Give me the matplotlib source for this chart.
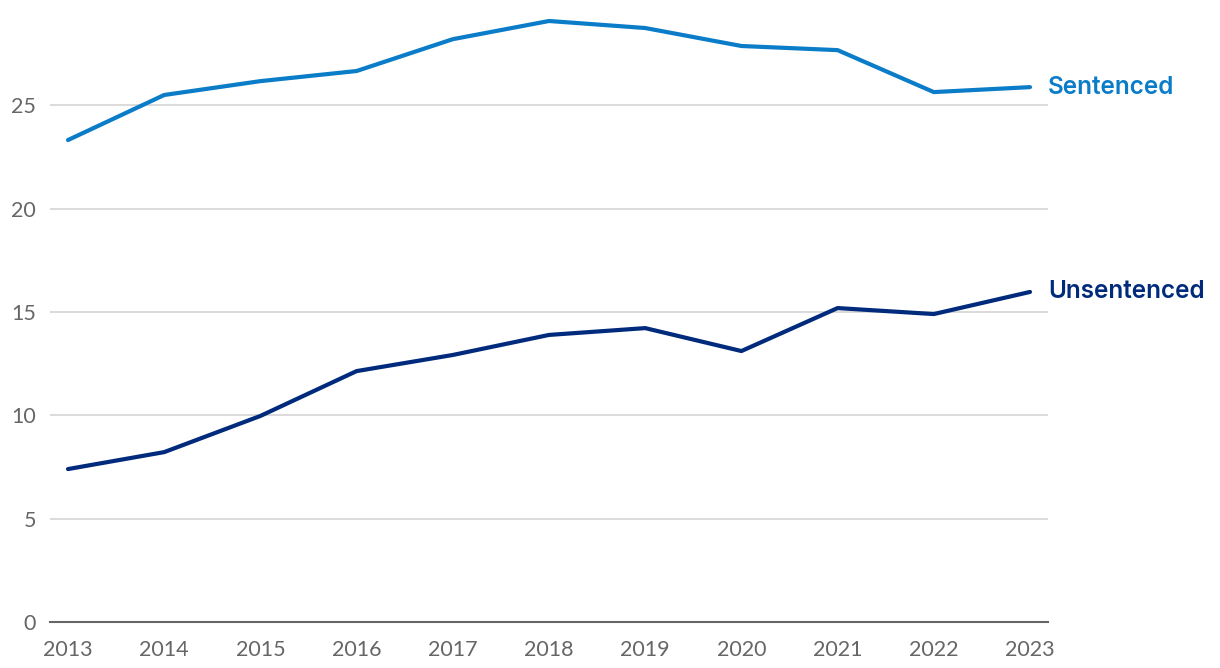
import matplotlib
matplotlib.use("Agg")
import matplotlib.pyplot as plt

years = [2013, 2014, 2015, 2016, 2017, 2018, 2019, 2020, 2021, 2022, 2023]
sentenced = [23.32, 25.5, 26.17, 26.66, 28.2, 29.08, 28.74, 27.87, 27.67, 25.64, 25.88]
unsentenced = [7.40, 8.22, 9.97, 12.14, 12.92, 13.89, 14.22, 13.11, 15.19, 14.90, 15.97]
yticks = [0, 5, 10, 15, 20, 25]

plt.rcParams['font.family'] = ['Lato', 'DejaVu Sans']

fig = plt.figure(figsize=(12.2, 6.68), dpi=100)
ax = fig.add_axes([50/1220, 1-622/668, (1048-50)/1220, (622-15)/668])

c_sent = '#0a7cc8'
c_unsent = '#002a7c'
ax.plot(years, sentenced, color=c_sent, lw=3, solid_capstyle='round', zorder=3)
ax.plot(years, unsentenced, color=c_unsent, lw=3, solid_capstyle='round', zorder=3)

ax.set_xlim(2013 - 18/96.2, 2023 + 18/96.2)
ax.set_ylim(0, 29.37)
ax.set_yticks(yticks)
ax.set_xticks(years)
ax.grid(axis='y', color='#d4d4d4', lw=1.2)
ax.set_axisbelow(True)
for s in ['top', 'right', 'left']:
    ax.spines[s].set_visible(False)
ax.spines['bottom'].set_color('#666666')
ax.spines['bottom'].set_linewidth(1.5)
ax.tick_params(axis='both', length=0, labelsize=15.5, labelcolor='#666666')
ax.tick_params(axis='y', pad=10)
ax.tick_params(axis='x', pad=13)

lab_font = ['Inter', 'DejaVu Sans']
ax.annotate('Sentenced', xy=(years[-1], sentenced[-1]), xytext=(13, 0),
            textcoords='offset points', color=c_sent, fontsize=17.5, fontweight='semibold',
            family=lab_font, va='center', ha='left', annotation_clip=False)
ax.annotate('Unsentenced', xy=(years[-1], unsentenced[-1]), xytext=(13, 0),
            textcoords='offset points', color=c_unsent, fontsize=17.5, fontweight='semibold',
            family=lab_font, va='center', ha='left', annotation_clip=False)

fig.savefig('out.png', dpi=100)
